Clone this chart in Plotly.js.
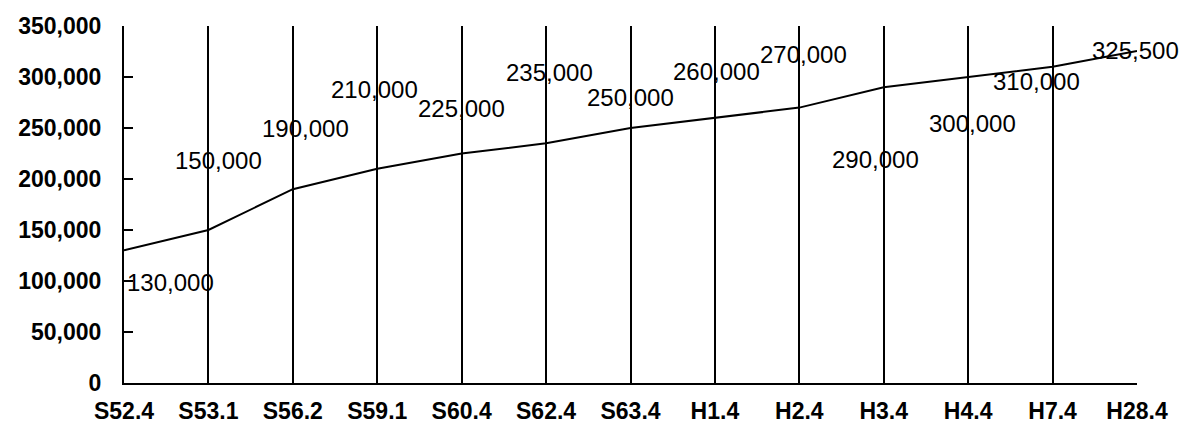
<!DOCTYPE html>
<html>
<head>
<meta charset="utf-8">
<script src="https://cdn.plot.ly/plotly-3.0.1.min.js"></script>
<style>html,body{margin:0;padding:0;background:#fff;}#chart{width:1183px;height:427px;}</style>
</head>
<body>
<div id="chart"></div>
<script>
// Data
const categories = ["S52.4","S53.1","S56.2","S59.1","S60.4","S62.4","S63.4","H1.4","H2.4","H3.4","H4.4","H7.4","H28.4"];
const values = [130000,150000,190000,210000,225000,235000,250000,260000,270000,290000,300000,310000,325500];
const valueLabels = ["130,000","150,000","190,000","210,000","225,000","235,000","250,000","260,000","270,000","290,000","300,000","310,000","325,500"];
const yTickVals = [0,50000,100000,150000,200000,250000,300000,350000];
const yTickText = ["0","50,000","100,000","150,000","200,000","250,000","300,000","350,000"];

// Layout: label offsets in pixels relative to each point
const labelDx = [46,10,13,-3,0,3,0,2,4,-8,4,-16,-2];
const labelDy = [32,-70,-61,-79,-45,-71,-31,-46,-53,72,46,15,0];

const idx = categories.map((c,i)=>i);
const FONT = "Liberation Sans, Arial, sans-serif";

const trace = {
  x: idx, y: values, type: "scatter", mode: "lines",
  line: {color: "#000", width: 2}, hoverinfo: "skip"
};

const annotations = values.map((v,i)=>({
  x: i, y: v, xref: "x", yref: "y", text: valueLabels[i], showarrow: false,
  xshift: labelDx[i], yshift: -labelDy[i], xanchor: "center", yanchor: "middle",
  font: {family: FONT, size: 24, color: "#000"}
}));

const layout = {
  width: 1183, height: 427,
  margin: {l: 124, r: 46, t: 26, b: 44},
  paper_bgcolor: "#fff", plot_bgcolor: "#fff",
  showlegend: false,
  xaxis: {
    range: [0, 12], tickvals: idx, ticktext: categories,
    showline: true, linecolor: "#000", linewidth: 2,
    ticks: "inside", ticklen: 10, tickwidth: 2, tickcolor: "#000",
    showgrid: true, gridcolor: "#000", gridwidth: 2,
    zeroline: false, ticklabelstandoff: 6,
    tickfont: {family: FONT, size: 23, color: "#000", weight: "bold"}
  },
  yaxis: {
    range: [0, 350000], tickvals: yTickVals, ticktext: yTickText,
    showline: true, linecolor: "#000", linewidth: 2,
    ticks: "inside", ticklen: 9, tickwidth: 2, tickcolor: "#000",
    showgrid: false, zeroline: false, ticklabelstandoff: 16,
    tickfont: {family: FONT, size: 23, color: "#000", weight: "bold"}
  },
  annotations: annotations
};

Plotly.newPlot("chart", [trace], layout, {staticPlot: true, displayModeBar: false});
</script>
</body>
</html>
